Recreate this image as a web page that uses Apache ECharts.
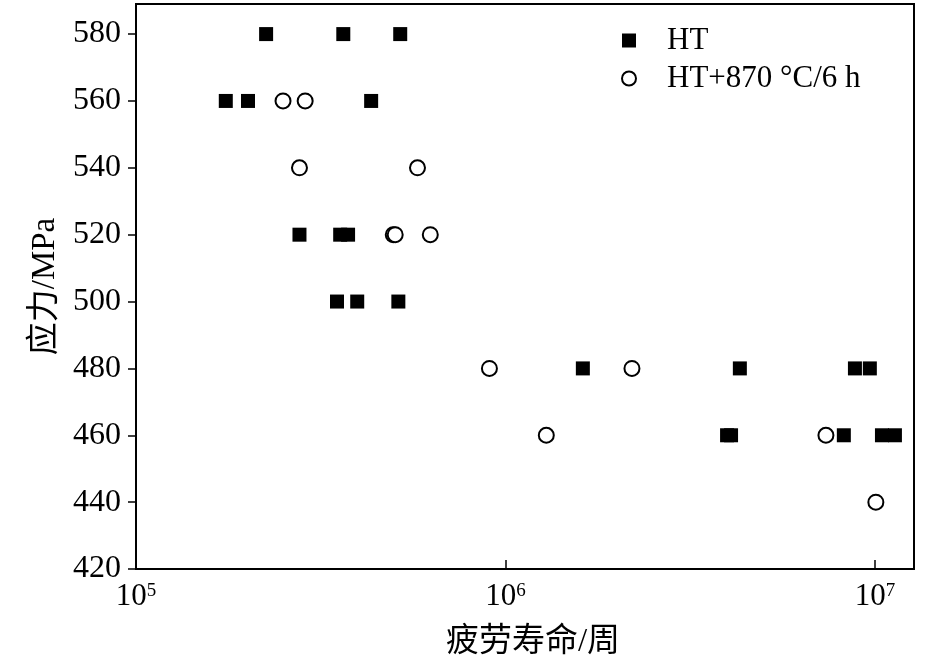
<!DOCTYPE html>
<html>
<head>
    <meta charset="utf-8">
    <script src="https://cdn.jsdelivr.net/npm/echarts@6/dist/echarts.min.js"></script>
    <style>
        html, body { margin: 0; padding: 0; background: #fff; }
    </style>
</head>
<body>
<div id="echartsMain" style="width: 945px; height: 665px;"></div>
</body>
</html>

<script type="text/javascript">
    // fatigue life (cycles) and stress (MPa)
    let htLife = [2.25e5, 3.64e5, 5.19e5,
        1.75e5, 2.01e5, 4.33e5,
        2.77e5, 3.57e5, 3.75e5,
        3.50e5, 3.97e5, 5.13e5,
        1.62e6, 4.31e6, 8.83e6, 9.69e6,
        3.98e6, 4.08e6, 8.24e6, 1.045e7, 1.133e7]
    let htStress = [580, 580, 580,
        560, 560, 560,
        520, 520, 520,
        500, 500, 500,
        480, 480, 480, 480,
        460, 460, 460, 460, 460]

    let agedLife = [2.50e5, 2.87e5,
        2.77e5, 5.78e5,
        4.97e5, 5.03e5, 6.26e5,
        9.05e5, 2.20e6,
        1.29e6, 7.37e6,
        1.006e7]
    let agedStress = [560, 560,
        540, 540,
        520, 520, 520,
        480, 480,
        460, 460,
        440]

    let yTicks = [420, 440, 460, 480, 500, 520, 540, 560, 580]
    let seriesNames = ['HT', 'HT+870 °C/6 h']

    function pairs(xs, ys) {
        return xs.map((x, i) => [x, ys[i]])
    }

    function draw() {
        let myChart = echarts.init(document.getElementById('echartsMain'));
        let serif = '"Liberation Serif", "Times New Roman", "Noto Sans CJK SC", serif'

        var option = {
            animation: false,
            grid: {
                left: 136,
                right: 31,
                top: 4,
                bottom: 96,
                show: true,
                borderColor: '#000',
                borderWidth: 2
            },
            legend: {
                orient: 'vertical',
                left: 616,
                top: 20,
                itemWidth: 14,
                itemHeight: 14,
                itemGap: 7,
                selectedMode: false,
                data: seriesNames,
                textStyle: {
                    fontFamily: serif,
                    fontSize: 31,
                    lineHeight: 30,
                    color: '#000',
                    padding: [0, 0, 0, 26]
                }
            },
            xAxis: {
                type: 'log',
                logBase: 10,
                min: 1e5,
                max: 1.276e7,
                name: '疲劳寿命/周',
                nameLocation: 'middle',
                nameGap: 57,
                nameTextStyle: {
                    fontFamily: serif,
                    fontSize: 33,
                    color: '#000',
                    padding: [0, 0, 0, 16]
                },
                axisLine: { lineStyle: { color: '#000', width: 2 } },
                axisTick: { inside: true, length: 9, lineStyle: { color: '#000', width: 1.5 } },
                splitLine: { show: false },
                minorTick: { show: false },
                axisLabel: {
                    margin: 11,
                    formatter: function (v) {
                        let p = Math.log10(v)
                        if (Math.abs(p - Math.round(p)) > 1e-6) return ''
                        return '{b|10}{s|' + Math.round(p) + '}'
                    },
                    rich: {
                        b: { fontFamily: serif, fontSize: 31, lineHeight: 34, color: '#000' },
                        s: { fontFamily: serif, fontSize: 19, lineHeight: 20, color: '#000', padding: [0, 0, 12, 0] }
                    }
                }
            },
            yAxis: {
                type: 'value',
                min: 420,
                max: 589,
                interval: 20,
                name: '应力/MPa',
                nameLocation: 'middle',
                nameGap: 66,
                nameTextStyle: {
                    fontFamily: serif,
                    fontSize: 33,
                    color: '#000'
                },
                axisLine: { show: true, lineStyle: { color: '#000', width: 2 } },
                axisTick: { show: true, length: 8, customValues: yTicks, lineStyle: { color: '#000', width: 1.5 } },
                splitLine: { show: false },
                axisLabel: {
                    customValues: yTicks,
                    margin: 15,
                    fontFamily: serif,
                    fontSize: 32,
                    color: '#000'
                }
            },
            series: [
                {
                    name: seriesNames[0],
                    type: 'scatter',
                    symbol: 'rect',
                    symbolSize: 14,
                    itemStyle: { color: '#000', opacity: 1 },
                    data: pairs(htLife, htStress)
                },
                {
                    name: seriesNames[1],
                    type: 'scatter',
                    symbol: 'circle',
                    symbolSize: 15,
                    itemStyle: { color: '#fff', borderColor: '#000', borderWidth: 2, opacity: 1 },
                    data: pairs(agedLife, agedStress)
                }
            ]
        };
        myChart.setOption(option);
    }

    draw()
</script>
